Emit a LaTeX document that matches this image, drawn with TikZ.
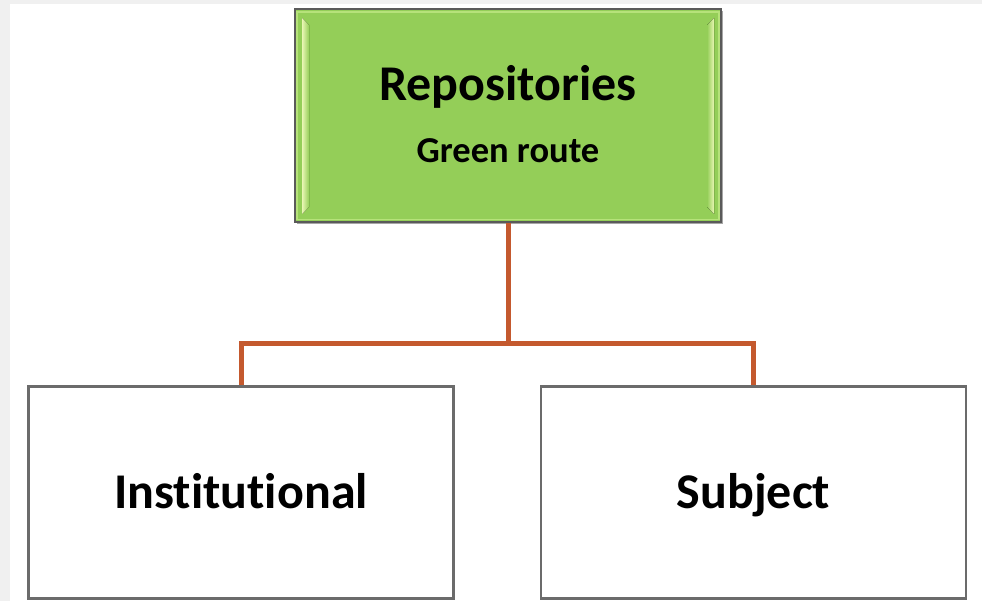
\documentclass[tikz,border=0pt]{standalone}
\usepackage{fontspec}
\setmainfont{Carlito}[Ligatures=NoCommon]
\usetikzlibrary{shadows}

\definecolor{pagegray}{RGB}{240,240,240}
\definecolor{repogreen}{RGB}{148,206,88}
\definecolor{repolight}{RGB}{182,226,122}
\definecolor{repoglow}{RGB}{234,246,180}
\definecolor{boxedge}{RGB}{90,90,90}
\definecolor{branchline}{RGB}{196,89,46}

\tikzset{
  repobox/.style={draw=boxedge, line width=2.5pt, fill=repogreen,
    minimum width=426pt, minimum height=213pt, inner sep=0pt,
    drop shadow={shadow xshift=1.5pt, shadow yshift=-2pt, opacity=0.35, fill=black}},
  kindbox/.style={draw=boxedge!90, line width=2.2pt, fill=white,
    minimum width=425pt, minimum height=212pt, inner sep=0pt},
  title/.style={font=\bfseries\fontsize{50}{54}\selectfont, inner sep=0pt},
  subtitle/.style={font=\bfseries\fontsize{36.5}{40}\selectfont, inner sep=0pt},
  branch/.style={draw=branchline, line width=5pt}
}

\begin{document}
\begin{tikzpicture}[x=1pt, y=-1pt]
  % page frame
  \fill[pagegray] (0,0) rectangle (982,601);
  \fill[white] (10,4) rectangle (982,601);
  \useasboundingbox (0,0) rectangle (982,601);

  % top box with bevel highlights
  \node[repobox] (repo) at (508,115.5) {};
  \draw[repolight, line width=1.5pt] (297,12) rectangle (719,219.5);
  \fill[left color=repoglow, right color=repogreen] (302,18) -- (309,25) -- (309,207) -- (302,214) -- cycle;
  \fill[right color=repoglow, left color=repogreen] (714,18) -- (707,25) -- (707,207) -- (714,214) -- cycle;
  \node[title, anchor=base] (repotitle) at (508,101) {Repositories};
  \node[subtitle, anchor=base] (reposub) at (508,163) {Green route};

  % lower boxes
  \node[kindbox] (inst) at (241,492.5) {};
  \node[kindbox] (subj) at (753.5,492.5) {};
  \node[title, anchor=base] (insttext) at (241,508) {Institutional};
  \node[title, anchor=base] (subjtext) at (753.5,508) {Subject};

  % branch connectors
  \coordinate (split) at (508,344);
  \draw[branch] (repo.south) -- (split);
  \draw[branch] (split) -| (inst.north);
  \draw[branch] (split) -| (subj.north);
  \node[kindbox, fill=none] at (inst) {};
  \node[kindbox, fill=none] at (subj) {};
\end{tikzpicture}
\end{document}
